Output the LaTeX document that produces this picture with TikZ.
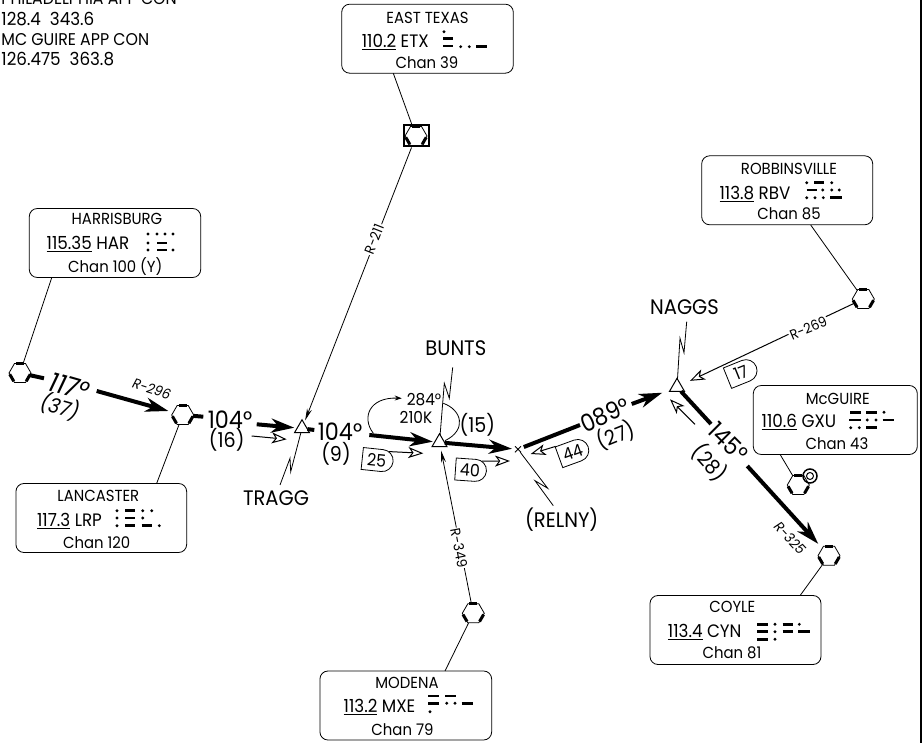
\documentclass[tikz,border=0pt]{standalone}
\usepackage{fontspec}
\setmainfont[FakeStretch=0.93]{Poppins}
\usetikzlibrary{arrows.meta,shapes.geometric,shapes.misc}
\newcommand{\vorbars}[1]{
	\draw[vorbar] (#1.corner 1) -- (#1.corner 2);
	\draw[vorbar] (#1.corner 3) -- (#1.corner 4);
	\draw[vorbar] (#1.corner 5) -- (#1.corner 6);
}
\newcommand{\morse}[2]{
	\foreach \x/\y in {#1} \fill (\x,\y) circle (1.6);
	\foreach \x/\xb/\y in {#2} \draw[dahbar] (\x,\y) -- (\xb,\y);
}
\begin{document}
\begin{tikzpicture}[
	x=1pt,y=-1pt,
	line width=0.8pt,
	vorbox/.style={draw,rounded corners=8pt,minimum width=#1,minimum height=69pt,inner sep=0},
	boxtext/.style={font=\fontsize{16}{18}\selectfont,inner sep=0},
	freqtext/.style={font=\fontsize{18}{20}\selectfont,inner sep=0},
	fixname/.style={font=\fontsize{21}{23}\selectfont,inner sep=0},
	course/.style={font=\fontsize{24}{26}\selectfont,inner sep=0},
	dist/.style={font=\fontsize{20.5}{22}\selectfont,inner sep=0},
	holdtext/.style={font=\fontsize{16.5}{18}\selectfont,inner sep=0},
	routelabel/.style={font=\fontsize{14}{16}\selectfont,fill=white,inner sep=1pt},
	vorhex/.style={draw,fill=white,regular polygon,regular polygon sides=6,minimum size=22pt,inner sep=0,outer sep=0},
	vorbar/.style={line width=3pt,shorten <=1.5pt,shorten >=1.5pt},
	dahbar/.style={line width=2.5pt},
	fixmark/.style={draw,line width=1pt,fill=white,regular polygon,regular polygon sides=3,minimum size=17.3pt,inner sep=0,outer sep=0},
	bold/.style={line width=4pt},
	boldarrow/.style={line width=4pt,-{Stealth[length=23pt,width=14pt,inset=7pt]}},
	openarrow/.style={line width=1pt,-{Stealth[open,length=15pt,width=11pt,inset=4pt,fill=white]}},
	flag/.style={draw,fill=white,rounded rectangle,rounded rectangle left arc=none,minimum width=31pt,minimum height=22pt,inner sep=0,font=\fontsize{17}{19}\selectfont}
	]
		\useasboundingbox (0,0) rectangle (922,743);
		\draw[line width=2pt] (921,0) -- (921,743);
		
		\path (1,5) node[freqtext,anchor=base west,font=\fontsize{17}{19}\selectfont] (apcon1) {PHILADELPHIA APP CON};
		\path (1,26) node[freqtext,anchor=base west] (apfreq1) {128.4\ \ 343.6};
		\path (1,45.5) node[freqtext,anchor=base west,font=\fontsize{17}{19}\selectfont] (apcon2) {MC GUIRE APP CON};
		\path (1,66) node[freqtext,anchor=base west] (apfreq2) {126.475\ \ 363.8};
		
		\path (20,373) node[vorhex] (harvor) {};
		\vorbars{harvor}
		\path (182.7,415) node[vorhex] (lrpvor) {};
		\vorbars{lrpvor}
		\path (416,136) node[draw,line width=2pt,minimum width=25pt,minimum height=21pt,inner sep=0] (etxsq) {};
		\path (416,136) node[vorhex] (etxvor) {};
		\vorbars{etxvor}
		\path (863.3,299) node[vorhex] (rbvvor) {};
		\vorbars{rbvvor}
		\path (798.3,485) node[vorhex] (gxuvor) {};
		\vorbars{gxuvor}
		\path (829,555.7) node[vorhex] (cynvor) {};
		\vorbars{cynvor}
		\path (473.3,613.3) node[vorhex] (mxevor) {};
		\vorbars{mxevor}
		\draw[line width=1.5pt] (810,476) circle (7);
		\draw[line width=1pt] (810,476) circle (3.5);
		
		\path (302,428.4) node[fixmark] (tragg) {};
		\path (439.5,442.4) node[fixmark] (bunts) {};
		\path (677,387) node[fixmark] (naggs) {};
		\path (518,449.3) node[draw,cross out,minimum size=6pt,inner sep=0,outer sep=0] (relny) {};
		
		\path (115,243) node[vorbox=171.4pt] (harbox) {};
		\path (117,219.3) node[boxtext] (hartitle) {HARRISBURG};
		\path (88,244) node[freqtext] (harfreq) {\underline{115.35} HAR};
		\path (115.3,266.5) node[boxtext] (harchan) {Chan 100 (Y)};
		\morse{148/234,157/234,165/234,173/234,148/243,148/250,173/250}{157/167/243,157/167/250}
		
		\path (101.3,518) node[vorbox=170.7pt] (lrpbox) {};
		\path (98.3,495.7) node[boxtext] (lrptitle) {LANCASTER};
		\path (69.5,521) node[freqtext] (lrpfreq) {\underline{117.3} LRP};
		\path (96.7,543) node[boxtext] (lrpchan) {Chan 120};
		\morse{117/510.7,142.7/510.7,151.7/510.7,117/518,142.7/518,117/525.7,159.3/525.7}{125/135/510.7,125/135/518,125/135/525.7,141.7/151.7/525.7}
		
		\path (427.5,38.7) node[vorbox=171.6pt] (etxbox) {};
		\path (427.5,18.3) node[boxtext] (etxtitle) {EAST TEXAS};
		\path (395.3,41.7) node[freqtext] (etxfreq) {\underline{110.2} ETX};
		\path (427,62.3) node[boxtext] (etxchan) {Chan 39};
		\morse{444/31.7,460.7/46.7,469.3/46.7}{443.3/453.3/38.3,443.3/453.3/46,476/486.7/46.7}
		
		\path (787.2,190.3) node[vorbox=171pt] (rbvbox) {};
		\path (789,169) node[boxtext] (rbvtitle) {ROBBINSVILLE};
		\path (755,194.3) node[freqtext] (rbvfreq) {\underline{113.8} RBV};
		\path (789,213.3) node[boxtext] (rbvchan) {Chan 85};
		\morse{806.7/182.7,831.7/182.7,822.7/190,831.7/190,839.3/190,806.7/197.7,815/197.7,823.3/197.7}{814/824/182.7,806.7/816.7/190,830/841.7/197.7}
		
		\path (835.3,420) node[vorbox=164pt] (gxubox) {};
		\path (837.8,399.3) node[boxtext] (gxutitle) {McGUIRE};
		\path (799,421.7) node[freqtext] (gxufreq) {\underline{110.6} GXU};
		\path (837,444) node[boxtext] (gxuchan) {Chan 43};
		\morse{884/412.3,867.3/420,876/420,850.7/427.7,859.3/427.7}{850/860.7/412.3,866/877.3/412.3,849.3/860.7/420,882.7/894/420,866/877.3/427.7}
		
		\path (735.5,630) node[vorbox=171pt] (cynbox) {};
		\path (732.3,607.3) node[boxtext] (cyntitle) {COYLE};
		\path (704.7,631.7) node[freqtext] (cynfreq) {\underline{113.4} CYN};
		\path (732,652.7) node[boxtext] (cynchan) {Chan 81};
		\morse{775/624.3,799.3/624.3,775/631.7,775/639.3}{757.3/768.3/624.3,782.7/793.3/624.3,757.3/768.3/631.7,782.7/793.3/631.7,798.3/810/631.7,757.3/768.3/639.3}
		
		\path (405.8,705.5) node[vorbox=171.7pt] (mxebox) {};
		\path (407,683.3) node[boxtext] (mxetitle) {MODENA};
		\path (379.5,706.7) node[freqtext] (mxefreq) {\underline{113.2} MXE};
		\path (402.5,729.3) node[boxtext] (mxechan) {Chan 79};
		\morse{446.7/703.3,455/703.3,430/711.7}{428.3/439.3/696,445/456/696,428.3/439.3/703.3,461.7/473.3/703.3}
		
		\coordinate (harfoot) at (51.7,277.7);
		\coordinate (lrphead) at (156.7,483.3);
		\coordinate (etxfoot) at (393.3,73.3);
		\coordinate (rbvfoot) at (810.7,225);
		\coordinate (gxufoot) at (780,454.3);
		\coordinate (cynhead) at (800,595.7);
		\coordinate (mxehead) at (445,671);
		\draw (harfoot) -- (harvor);
		\draw (lrphead) -- (lrpvor);
		\draw (etxfoot) -- (etxsq);
		\draw (rbvfoot) -- (rbvvor);
		\draw (gxufoot) -- (gxuvor);
		\draw (cynhead) -- (cynvor);
		\draw (mxehead) -- (mxevor);
		
		\draw[-{Stealth[length=12pt,width=5pt]},shorten >=3pt] (etxsq) -- (tragg);
		\draw[-{Stealth[length=12pt,width=5pt]},shorten >=4pt] (mxevor) -- (bunts);
		\draw[openarrow,shorten >=10pt] (rbvvor) -- (naggs);
		\path (374,239) node[routelabel,rotate=68.6] (r211) {R-211};
		\path (459,548) node[routelabel,rotate=-79] (r349) {R-349};
		\path (808.3,328.3) node[routelabel,rotate=22.6] (r269) {R-269};
		
		\coordinate (harend) at (44,378.3);
		\coordinate (harstart) at (96.7,391);
		\draw[bold] (harvor) -- (harend);
		\draw[boldarrow,shorten >=5pt] (harstart) -- (lrpvor);
		\coordinate (lrpend) at (203.3,416.7);
		\coordinate (lrpstart) at (256.7,424.3);
		\draw[bold] (lrpvor) -- (lrpend);
		\draw[boldarrow,shorten >=3pt] (lrpstart) -- (tragg);
		\coordinate (tragend) at (314.3,430);
		\coordinate (tragstart) at (369.3,435);
		\draw[bold] (tragg) -- (tragend);
		\draw[boldarrow,shorten >=2pt] (tragstart) -- (bunts);
		\draw[boldarrow,shorten >=3pt] (bunts) -- (relny);
		\coordinate (relnyend) at (580,425);
		\coordinate (relnystart) at (631.7,404);
		\coordinate (naggtip) at (662.3,392.7);
		\draw[bold,shorten <=3pt] (relny) -- (relnyend);
		\draw[boldarrow] (relnystart) -- (naggtip);
		\coordinate (naggend) at (711,424);
		\coordinate (naggstart) at (747.3,466);
		\draw[bold] (naggs) -- (naggend);
		\draw[boldarrow,shorten >=6pt] (naggstart) -- (cynvor);
		
		\coordinate (backstart) at (695,424.3);
		\coordinate (backtip) at (670,399.3);
		\draw[openarrow] (backstart) -- (backtip);
		\coordinate (inleg16) at (251.7,436);
		\coordinate (intip16) at (286.7,439.3);
		\draw[openarrow] (inleg16) -- (intip16);
		
		\path (376.7,460) node[flag,rotate=-6] (flag25) {25};
		\path (470,470) node[flag,rotate=-4] (flag40) {40};
		\path (572.7,452.3) node[flag,rotate=20] (flag44) {44};
		\path (741,372.7) node[flag,rotate=22] (flag17) {17};
		\coordinate (tip25) at (423.3,453.3);
		\coordinate (tip40) at (510,461);
		\coordinate (tip44) at (530.7,454);
		\draw[openarrow] (flag25.40) -- (tip25);
		\draw[openarrow] (flag40.40) -- (tip40);
		\draw[openarrow] (flag44.141) -- (tip44);
		
		\draw (tragg) -- (290.7,471.7) -- (290,458.3) -- (280,485);
		\draw (bunts) -- (444.3,383.3) -- (449.3,398.3) -- (452.7,367.3);
		\draw (relny) -- (547.7,488.3) -- (535,480.7) -- (553.3,505.7);
		\draw (naggs) -- (680,338.3) -- (684,352.7) -- (686.7,321.7);
		
		\draw[-{Stealth[length=7pt,width=5pt]}] (373.3,433.3) .. controls (361,417) and (370,397) .. (401.7,398.3);
		\draw (443.3,403.3) .. controls (462,410) and (467,430) .. (445,440.7);
		
		\path (276,498) node[fixname] (traggname) {TRAGG};
		\path (455.8,348.3) node[fixname] (buntsname) {BUNTS};
		\path (561.7,520) node[fixname] (relnyname) {(RELNY)};
		\path (684.5,306.7) node[fixname] (naggsname) {NAGGS};
		
		\path (69.3,386.7) node[course,rotate=-16,font=\fontsize{27}{29}\selectfont] (c117) {\itshape 117°};
		\path (60,406.7) node[dist,rotate=-16] (d37) {\itshape (37)};
		\path (230,420) node[course] (c104a) {104°};
		\path (226.7,440) node[dist] (d16) {(16)};
		\path (340,431.7) node[course] (c104b) {104°};
		\path (336,454.3) node[dist] (d9) {(9)};
		\path (477.3,425) node[dist] (d15) {(15)};
		\path (605,415) node[course,rotate=24] (c089) {089°};
		\path (616,435) node[dist,rotate=22] (d27) {(27)};
		\path (728,441.7) node[course,rotate=-45] (c145) {145°};
		\path (710,462.7) node[dist,rotate=-48] (d28) {(28)};
		
		\path (424,400) node[holdtext] (hold284) {284°};
		\path (416,417.7) node[holdtext] (hold210) {210K};
		
		\path (151.7,389) node[routelabel,fill=none,rotate=-18] (r296) {\itshape R-296};
		\path (790,538.3) node[routelabel,fill=none,rotate=-47] (r325) {\itshape R-325};
		
	\end{tikzpicture}
\end{document}
